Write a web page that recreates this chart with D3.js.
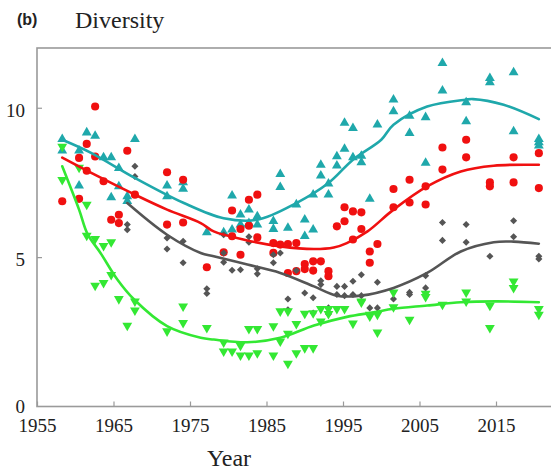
<!DOCTYPE html>
<html><head><meta charset="utf-8">
<script src="https://cdn.jsdelivr.net/npm/d3@7"></script>
<style>body{margin:0;background:#fff;overflow:hidden}svg{display:block}</style>
</head><body>
<script>
// ---- data ----
const xTicks = [1955, 1965, 1975, 1985, 1995, 2005, 2015];
const yTicks = [0, 5, 10];

const tealPoints = [[1958.3,8.95],[1958.3,8.56],[1960.5,8.56],[1960.5,7.39],[1961.5,9.17],[1962.6,9.06],[1963.7,8.34],[1964.7,8.34],[1964.7,7.0],[1965.7,7.98],[1965.7,7.37],[1966.8,7.03],[1966.8,6.87],[1967.8,8.95],[1972.0,7.39],[1972.0,7.03],[1974.1,7.5],[1974.1,7.28],[1977.2,5.83],[1979.4,5.83],[1980.5,7.06],[1980.5,5.92],[1981.6,6.42],[1981.6,6.09],[1982.7,6.59],[1982.7,6.14],[1983.8,6.36],[1983.8,6.09],[1985.9,6.2],[1985.9,5.94],[1986.8,7.78],[1986.8,7.34],[1987.8,5.98],[1988.9,6.76],[1990.0,6.25],[1990.0,5.70],[1991.1,7.09],[1991.1,5.92],[1992.1,8.09],[1992.1,7.73],[1993.1,7.46],[1993.1,7.09],[1994.2,8.37],[1994.2,8.06],[1995.2,8.62],[1995.2,9.49],[1996.3,9.32],[1996.3,8.34],[1997.4,8.39],[1997.4,8.17],[1998.5,6.95],[1999.5,9.43],[2001.6,10.27],[2001.6,9.88],[2003.7,9.73],[2003.7,9.15],[2005.8,9.68],[2005.8,8.15],[2008.0,11.49],[2008.0,10.57],[2011.1,10.18],[2011.1,9.54],[2014.2,10.99],[2014.2,10.85],[2017.3,11.18],[2017.3,9.21],[2020.6,8.95],[2020.6,8.84],[2020.6,8.73]];

const redPoints = [[1958.3,6.87],[1960.5,8.32],[1960.5,6.95],[1961.5,8.79],[1961.5,7.89],[1962.6,10.04],[1962.6,8.37],[1963.7,7.54],[1964.7,6.25],[1965.7,6.42],[1965.7,6.14],[1966.8,8.56],[1967.8,7.09],[1972.0,7.84],[1972.0,6.09],[1974.1,7.59],[1974.1,6.16],[1977.2,4.66],[1979.4,5.16],[1980.5,6.56],[1980.5,5.70],[1981.6,5.94],[1981.6,5.08],[1982.7,6.92],[1982.7,6.05],[1983.8,7.09],[1983.8,5.66],[1985.9,5.47],[1985.9,5.14],[1986.8,5.42],[1987.8,5.44],[1987.8,4.47],[1988.9,5.47],[1988.9,4.53],[1990.0,4.77],[1990.0,4.60],[1991.1,4.86],[1991.1,4.55],[1992.1,4.86],[1993.1,4.53],[1993.1,4.36],[1994.2,6.03],[1995.2,6.67],[1995.2,6.2],[1996.3,6.53],[1996.3,5.59],[1997.4,6.5],[1997.4,5.94],[1998.5,5.19],[1998.5,4.81],[1999.5,5.44],[2001.6,7.28],[2001.6,6.67],[2003.7,7.59],[2003.7,6.83],[2005.8,7.37],[2005.8,6.76],[2008.0,8.67],[2008.0,7.93],[2011.1,8.93],[2011.1,8.34],[2014.2,7.5],[2014.2,7.37],[2017.3,8.34],[2017.3,7.5],[2020.6,8.48],[2020.6,7.31]];

const grayPoints = [[1966.8,6.09],[1966.8,5.92],[1967.8,8.04],[1967.8,7.70],[1972.0,5.64],[1972.0,5.27],[1974.1,5.53],[1974.1,4.81],[1977.2,3.94],[1977.2,3.78],[1979.4,5.75],[1979.4,5.14],[1979.4,4.83],[1980.5,4.56],[1981.6,4.58],[1982.7,5.68],[1982.7,5.5],[1983.8,4.61],[1983.8,4.44],[1985.9,5.08],[1985.9,4.81],[1986.8,5.14],[1987.8,3.60],[1987.8,3.24],[1988.9,4.55],[1990.0,3.80],[1991.1,3.64],[1991.1,3.13],[1992.1,4.21],[1992.1,4.08],[1993.1,3.30],[1993.1,3.10],[1994.2,4.02],[1994.2,3.75],[1995.2,4.02],[1995.2,3.71],[1996.3,4.19],[1996.3,3.75],[1997.4,4.41],[1997.4,3.71],[1998.5,3.30],[1999.5,4.16],[1999.5,3.30],[2001.6,3.60],[2003.7,3.82],[2003.7,3.75],[2005.8,4.38],[2005.8,3.97],[2008.0,6.16],[2008.0,5.56],[2011.1,6.09],[2011.1,5.50],[2014.2,5.03],[2017.3,6.22],[2017.3,5.68],[2020.6,5.03],[2020.6,4.94]];

const greenPoints = [[1958.3,8.7],[1958.3,7.59],[1960.5,8.0],[1961.5,6.76],[1961.5,5.72],[1962.6,5.61],[1962.6,4.05],[1963.7,5.38],[1963.7,4.14],[1964.7,5.50],[1964.7,4.41],[1965.7,3.60],[1966.8,2.71],[1967.8,3.52],[1967.8,3.22],[1972.0,2.52],[1974.1,3.35],[1974.1,2.80],[1977.2,2.63],[1979.4,2.15],[1979.4,1.85],[1980.5,1.85],[1981.6,2.04],[1981.6,1.71],[1982.7,2.60],[1982.7,1.71],[1983.8,2.60],[1983.8,1.79],[1985.9,2.69],[1985.9,1.71],[1986.8,3.19],[1986.8,2.18],[1987.8,3.19],[1987.8,2.44],[1987.8,1.44],[1988.9,2.77],[1988.9,1.79],[1990.0,3.11],[1990.0,1.96],[1991.1,3.13],[1991.1,1.96],[1992.1,3.27],[1992.1,2.85],[1993.1,3.27],[1993.1,3.1],[1994.2,3.27],[1995.2,3.27],[1996.3,2.78],[1997.4,3.52],[1997.4,3.49],[1998.5,3.08],[1998.5,3.02],[1999.5,3.08],[1999.5,2.48],[2001.6,3.82],[2001.6,3.33],[2003.7,2.91],[2005.8,3.78],[2005.8,3.67],[2008.0,3.41],[2011.1,3.82],[2011.1,3.52],[2014.2,3.38],[2014.2,2.63],[2017.3,4.19],[2017.3,3.97],[2020.6,3.27],[2020.6,3.08]];

// smoothed trend lines
const tealFit = [[1958.3,8.93],[1962,8.5],[1967.8,7.65],[1974.2,6.81],[1979.4,6.3],[1983.8,6.25],[1988.9,6.81],[1993.1,7.48],[1996.3,8.26],[2000,8.93],[2001.6,9.43],[2006,10.04],[2011,10.27],[2012,10.29],[2016,10.1],[2020.6,9.62]];
const redFit = [[1958.3,8.33],[1963,7.7],[1967.8,7.09],[1972,6.59],[1976.4,6.14],[1978.1,5.86],[1982.5,5.56],[1986.8,5.36],[1991.2,5.27],[1993.8,5.32],[1995.5,5.47],[1998.2,5.86],[2001.6,6.59],[2006,7.37],[2010.4,7.87],[2014.7,8.06],[2020.6,8.09]];
const grayFit = [[1966.8,6.81],[1972,5.75],[1976.4,5.14],[1978.1,5.03],[1982.5,4.75],[1986.8,4.47],[1991.2,4.02],[1994.2,3.71],[1997.3,3.71],[2001.6,3.97],[2006,4.47],[2010.4,5.19],[2014.7,5.50],[2017.3,5.52],[2020.6,5.45]];
const greenFit = [[1958.3,8.04],[1960.5,6.59],[1961.6,5.78],[1963.3,5.14],[1965.5,4.25],[1967.7,3.58],[1972,2.69],[1976.4,2.3],[1978.1,2.24],[1982.5,2.15],[1986.8,2.3],[1991.2,2.71],[1995.5,3.0],[1999,3.15],[2001.6,3.27],[2006,3.38],[2010.4,3.49],[2015,3.52],[2020.6,3.49]];

// ---- drawing ----
const W = 551, H = 472;
const svg = d3.select("body").append("svg").attr("width", W).attr("height", H);
const x = d3.scaleLinear().domain([1955, 2023]).range([37, 557.2]);
const y = d3.scaleLinear().domain([0, 12]).range([406.5, 48]);

const frameColor = "#9a9a9a";
svg.append("rect").attr("x", x(1955)).attr("y", y(12)).attr("width", x(2023) - x(1955)).attr("height", y(0) - y(12))
  .attr("fill", "none").attr("stroke", frameColor).attr("stroke-width", 1.6);

const serif = "'Liberation Serif','DejaVu Serif',serif";
const xAxis = d3.axisBottom(x).tickValues(xTicks).tickFormat(d3.format("d")).tickSize(-5);
const gx = svg.append("g").attr("transform", `translate(0,${y(0)})`).call(xAxis);
gx.select(".domain").remove();
gx.selectAll(".tick line").attr("stroke", frameColor).attr("stroke-width", 1.2);
gx.selectAll(".tick text").attr("font-family", serif).attr("font-size", 19).attr("fill", "#222")
  .attr("y", 25).attr("dy", 0);

const yAxis = d3.axisLeft(y).tickValues(yTicks).tickSize(-5).tickPadding(12);
const gy = svg.append("g").attr("transform", `translate(${x(1955)},0)`).call(yAxis);
gy.select(".domain").remove();
gy.selectAll(".tick line").attr("stroke", frameColor).attr("stroke-width", 1.2);
gy.selectAll(".tick text").attr("font-family", serif).attr("font-size", 19).attr("fill", "#222").attr("dy", "0.45em");
gy.selectAll(".tick").filter(d => d === 0).select("line").remove();
gy.selectAll(".tick").filter(d => d === 0).select("text").attr("dy", "0.3em");

const series = [
  {pts: tealPoints, fit: tealFit, color: "#1fa8ab", sym: d3.symbolTriangle, size: 42, rot: 0},
  {pts: redPoints, fit: redFit, color: "#f01010", sym: d3.symbolCircle, size: 52, rot: 0},
  {pts: grayPoints, fit: grayFit, color: "#555555", sym: d3.symbolDiamond2, size: 32, rot: 0},
  {pts: greenPoints, fit: greenFit, color: "#33e833", sym: d3.symbolTriangle, size: 42, rot: 180}
];

series.forEach(s => {
  svg.append("g").selectAll("path").data(s.pts).join("path")
    .attr("d", d3.symbol().type(s.sym).size(s.size))
    .attr("transform", d => `translate(${x(d[0])},${y(d[1])}) rotate(${s.rot})`)
    .attr("fill", s.color);
});
const line = d3.line().x(d => x(d[0])).y(d => y(d[1])).curve(d3.curveCatmullRom.alpha(0.5));
series.forEach(s => {
  svg.append("path").datum(s.fit).attr("d", line).attr("fill", "none")
    .attr("stroke", s.color).attr("stroke-width", 2.6).attr("stroke-linecap", "round");
});

svg.append("text").attr("x", 17).attr("y", 25).attr("font-family", "'Liberation Sans',Arial,sans-serif")
  .attr("font-weight", "bold").attr("font-size", 16).attr("fill", "#222").text("(b)");
svg.append("text").attr("x", 75).attr("y", 28).attr("font-family", serif)
  .attr("font-size", 24).attr("fill", "#222").text("Diversity");
svg.append("text").attr("x", 229).attr("y", 466).attr("text-anchor", "middle").attr("font-family", serif)
  .attr("font-size", 24).attr("fill", "#222").text("Year");
</script>
</body></html>
